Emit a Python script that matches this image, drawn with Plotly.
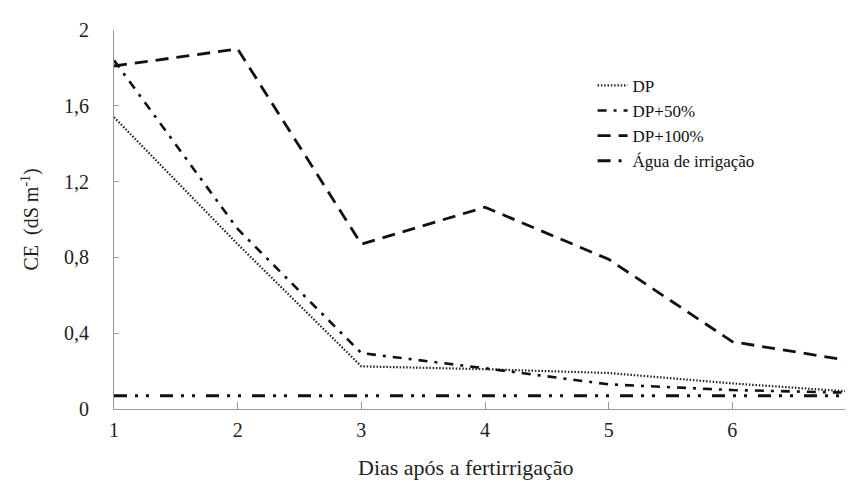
import plotly.graph_objects as go

dias = [1, 2, 3, 4, 5, 6, 7]
dp = [1.54, 0.87, 0.225, 0.21, 0.19, 0.135, 0.09]
dp50 = [1.84, 0.95, 0.295, 0.215, 0.13, 0.10, 0.085]
dp100 = [1.81, 1.90, 0.87, 1.065, 0.79, 0.355, 0.25]
agua = [0.07, 0.07, 0.07, 0.07, 0.07, 0.07, 0.07]

names = ["DP", "DP+50%", "DP+100%", "Água de irrigação"]
yticks = [0, 0.4, 0.8, 1.2, 1.6, 2]
yticklabels = ["0", "0,4", "0,8", "1,2", "1,6", "2"]

FONT = "Liberation Serif"
fig = go.Figure()
styles = [
    (dp, dict(color="#222", width=2.2, dash="1.5px,1.8px")),
    (dp50, dict(color="#111", width=2.6, dash="9px,7px,3px,7px")),
    (dp100, dict(color="#111", width=2.8, dash="13px,8px")),
    (agua, dict(color="#111", width=3, dash="13px,8px,3px,8px,3px,11px")),
]
for (vals, line), nm in zip(styles, names):
    fig.add_trace(go.Scatter(x=dias, y=vals, mode="lines", name=nm, line=line))

fig.update_layout(
    width=853, height=483,
    margin=dict(l=106, r=0, t=22, b=82),
    paper_bgcolor="white", plot_bgcolor="white",
    font=dict(family=FONT, color="#222"),
    showlegend=True,
    legend=dict(x=0.645, y=0.90, xanchor="left", yanchor="top",
                font=dict(family=FONT, size=17, color="#111"),
                bgcolor="rgba(0,0,0,0)", tracegroupgap=0, itemwidth=30),
    xaxis=dict(range=[1, 7], tickvals=dias, ticktext=[str(d) for d in dias],
               showgrid=False, zeroline=False, showline=True, linecolor="#999",
               linewidth=1.2, ticks="inside", ticklen=7, tickcolor="#999",
               tickfont=dict(size=20, family=FONT), ticklabelstandoff=3,
               ticklabeloverflow="allow"),
    yaxis=dict(range=[0, 2], tickvals=yticks, ticktext=yticklabels,
               showgrid=False, zeroline=False, showline=True, linecolor="#999",
               linewidth=1.2, ticks="inside", ticklen=5, tickcolor="#999",
               tickfont=dict(size=20, family=FONT), ticklabelstandoff=20),
    annotations=[
        dict(text="CE  (dS m<sup>-1</sup>)", xref="paper", yref="paper", x=0, y=0.5,
             xanchor="center", yanchor="middle", xshift=-84, textangle=-90,
             showarrow=False, font=dict(size=20, family=FONT, color="#222")),
        dict(text="Dias após a fertirrigação", xref="paper", yref="paper",
             x=(460 - 106) / 747, y=0, xanchor="center", yanchor="middle", yshift=-58,
             showarrow=False, font=dict(size=22, family=FONT, color="#222")),
    ],
)
fig.write_html("out.html")
